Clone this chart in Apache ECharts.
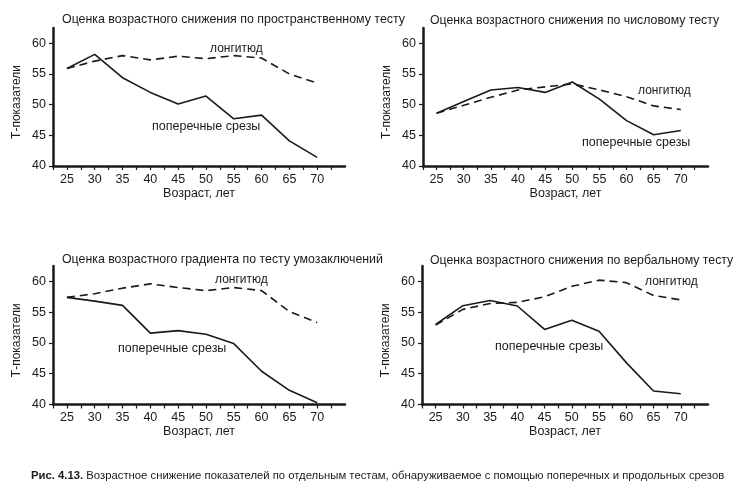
<!DOCTYPE html>
<html>
<head>
<meta charset="utf-8">
<script src="https://cdn.jsdelivr.net/npm/echarts@6/dist/echarts.min.js"></script>
<style>
html,body{margin:0;padding:0;background:#fff;}
#chart{width:735px;height:497px;}
</style>
</head>
<body>
<div id="chart"></div>
<script>
// ---- data ----
var ages = [25, 30, 35, 40, 45, 50, 55, 60, 65, 70];
var xTickValues = [22.5, 25, 27.5, 30, 32.5, 35, 37.5, 40, 42.5, 45, 47.5, 50, 52.5, 55, 57.5, 60, 62.5, 65, 67.5, 70, 72.5];
var xLabelValues = [25, 30, 35, 40, 45, 50, 55, 60, 65, 70];
var yLabelValues = [40, 45, 50, 55, 60];

var titles = [
  'Оценка возрастного снижения по пространственному тесту',
  'Оценка возрастного снижения по числовому тесту',
  'Оценка возрастного градиента по тесту умозаключений',
  'Оценка возрастного снижения по вербальному тесту'
];
var crossLabel = 'поперечные срезы';
var longLabel = 'лонгитюд';
var xName = 'Возраст, лет';
var yName = 'Т-показатели';
var captionBold = 'Рис. 4.13.';
var captionText = ' Возрастное снижение показателей по отдельным тестам, обнаруживаемое с помощью поперечных и продольных срезов';

var spatialCross   = [55.9, 58.2, 54.4, 52.0, 50.1, 51.4, 47.7, 48.3, 44.1, 41.4];
var spatialLong    = [55.9, 57.1, 58.0, 57.3, 57.9, 57.5, 58.0, 57.6, 55.0, 53.5];
var numericCross   = [48.6, 50.5, 52.4, 52.8, 52.0, 53.7, 50.9, 47.4, 45.1, 45.8];
var numericLong    = [48.6, 49.9, 51.2, 52.4, 52.9, 53.4, 52.4, 51.3, 49.8, 49.2];
var reasoningCross = [57.4, 56.8, 56.1, 51.6, 52.0, 51.4, 49.9, 45.4, 42.3, 40.3];
var reasoningLong  = [57.4, 58.0, 58.9, 59.6, 59.0, 58.5, 59.0, 58.5, 55.1, 53.3];
var verbalCross    = [53.0, 56.05, 56.9, 56.0, 52.2, 53.7, 51.9, 46.8, 42.2, 41.75];
var verbalLong     = [52.9, 55.45, 56.4, 56.6, 57.5, 59.2, 60.2, 59.8, 57.7, 57.0];

var crossSets = [spatialCross, numericCross, reasoningCross, verbalCross];
var longSets = [spatialLong, numericLong, reasoningLong, verbalLong];

// ---- layout ----
var FONT = 'Liberation Sans, Arial, sans-serif';
var INK = '#1a1a1a';
var grids = [
  {left: 53, top: 28, width: 292, height: 138},
  {left: 423, top: 28, width: 285, height: 138},
  {left: 53, top: 266, width: 292, height: 138.5},
  {left: 422, top: 266, width: 286, height: 138.5}
];
var titlePos = [[62, 14], [430, 15], [62, 254], [430, 255]];
var titleSize = [12.4, 12.3, 12.35, 12.3];
var notePos = [
  {long: [210, 50], cross: [152, 127]},
  {long: [638, 92], cross: [582, 143]},
  {long: [215, 281], cross: [118, 349]},
  {long: [645, 283], cross: [495, 347]}
];

function pairs(vals) { return ages.map(function (a, i) { return [a, vals[i]]; }); }

var option = {
  backgroundColor: '#fff',
  animation: false,
  textStyle: {fontFamily: FONT},
  title: titles.map(function (t, i) {
    return {text: t, left: titlePos[i][0], top: titlePos[i][1], padding: 0,
      textStyle: {fontFamily: FONT, fontSize: titleSize[i], fontWeight: 'normal', color: INK}};
  }),
  grid: grids,
  xAxis: grids.map(function (g, i) {
    return {
      type: 'value', gridIndex: i, min: 22.5, max: 75,
      name: xName, nameLocation: 'middle', nameGap: 20,
      nameTextStyle: {fontFamily: FONT, fontSize: 12.5, color: INK},
      splitLine: {show: false},
      axisLine: {show: true, lineStyle: {color: INK, width: 2.5}},
      axisTick: {show: true, length: 4, lineStyle: {color: INK, width: 1.2}, customValues: xTickValues},
      axisLabel: {fontFamily: FONT, fontSize: 12.5, color: INK, margin: 7, customValues: xLabelValues}
    };
  }),
  yAxis: grids.map(function (g, i) {
    return {
      type: 'value', gridIndex: i, min: 40, max: 62.5,
      name: yName, nameLocation: 'middle', nameGap: 30, nameRotate: 90,
      nameTextStyle: {fontFamily: FONT, fontSize: 12, color: INK, padding: [0, 10, 0, 0]},
      splitLine: {show: false},
      axisLine: {show: true, lineStyle: {color: INK, width: 2.5}},
      axisTick: {show: true, length: 4, lineStyle: {color: INK, width: 1.2}, customValues: yLabelValues},
      axisLabel: {fontFamily: FONT, fontSize: 12.5, color: INK, margin: 7, customValues: yLabelValues}
    };
  }),
  series: [],
  graphic: []
};

for (var i = 0; i < 4; i++) {
  option.series.push({
    name: crossLabel, type: 'line', xAxisIndex: i, yAxisIndex: i,
    data: pairs(crossSets[i]), symbol: 'none',
    lineStyle: {color: INK, width: 1.6}
  });
  option.series.push({
    name: longLabel, type: 'line', xAxisIndex: i, yAxisIndex: i,
    data: pairs(longSets[i]), symbol: 'none',
    lineStyle: {color: INK, width: 1.6, type: [8, 5]}
  });
  option.graphic.push({
    type: 'text', left: notePos[i].long[0], top: notePos[i].long[1] - 7,
    style: {text: longLabel, font: '12px ' + FONT, fill: INK}
  });
  option.graphic.push({
    type: 'text', left: notePos[i].cross[0], top: notePos[i].cross[1] - 7,
    style: {text: crossLabel, font: '12.5px ' + FONT, fill: INK}
  });
}

option.graphic.push({
  type: 'text', left: 31, top: 470,
  style: {
    text: '{b|' + captionBold + '}{r|' + captionText + '}',
    rich: {
      b: {fontFamily: FONT, fontWeight: 'bold', fontSize: 11.3, fill: INK},
      r: {fontFamily: FONT, fontSize: 11.3, fill: INK}
    }
  }
});

var chart = echarts.init(document.getElementById('chart'), null, {renderer: 'canvas'});
chart.setOption(option);
</script>
</body>
</html>
